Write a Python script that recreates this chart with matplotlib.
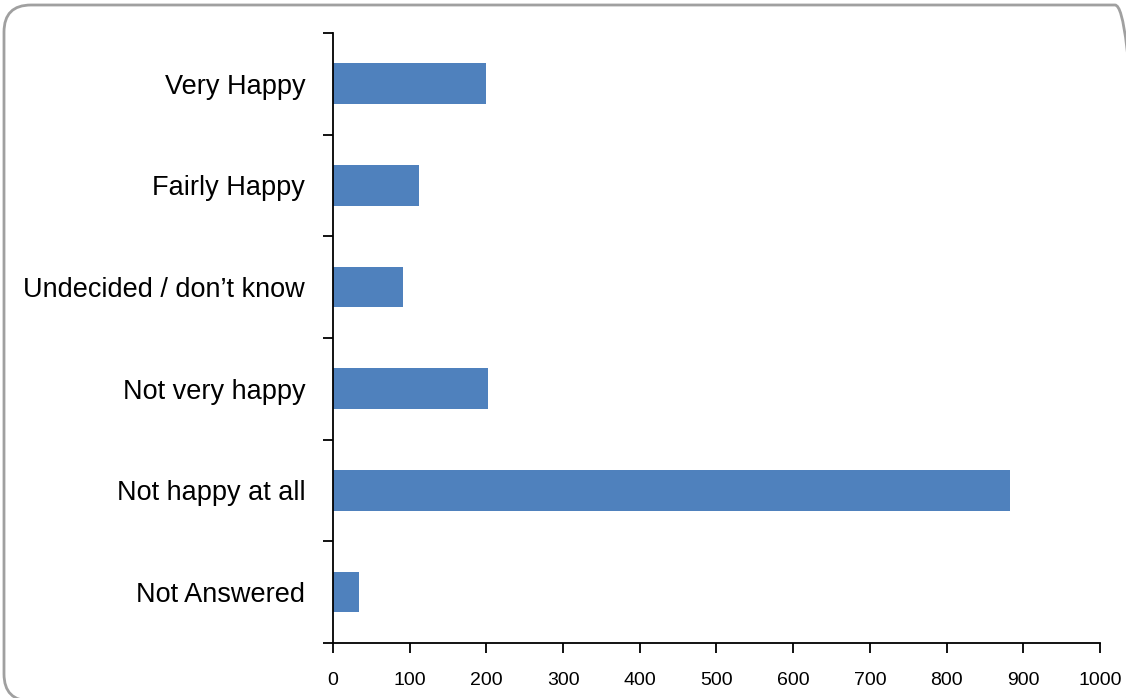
import matplotlib.pyplot as plt
from matplotlib.patches import FancyBboxPatch

plt.rcParams["font.family"] = ["Liberation Sans", "DejaVu Sans"]

# ============================
# 데이터
# ============================

categories = [
    "Very Happy",
    "Fairly Happy",
    "Undecided / don\u2019t know",
    "Not very happy",
    "Not happy at all",
    "Not Answered",
]
values = [200, 112, 91, 202, 883, 34]
x_ticks = [0, 100, 200, 300, 400, 500, 600, 700, 800, 900, 1000]

# ============================
# 그래프
# ============================

fig = plt.figure(figsize=(11.26, 6.98), dpi=100)
ax = fig.add_axes([0.2957, 0.0788, 0.6812, 0.874])

pos = range(len(categories))
ax.barh(pos, values, height=0.4, color="#4F81BD")

ax.set_xlim(0, 1000)
ax.set_ylim(len(categories) - 0.5, -0.5)

ax.set_xticks(x_ticks)
ax.set_xticklabels([str(v) for v in x_ticks], fontsize=14)
ax.set_yticks(list(pos))
ax.set_yticklabels(categories, fontsize=19.5)
ax.set_yticks([i - 0.5 for i in range(len(categories) + 1)], minor=True)

ax.tick_params(axis="y", which="major", length=0, pad=20)
ax.tick_params(axis="y", which="minor", length=7, width=1.3, direction="out")
ax.tick_params(axis="x", length=7, width=1.3, direction="out", pad=14)

for side in ["top", "right"]:
    ax.spines[side].set_visible(False)
ax.spines["left"].set_linewidth(1.3)
ax.spines["bottom"].set_linewidth(1.3)

# 바깥 둥근 테두리 (인치 단위)
frame = FancyBboxPatch(
    (0.04, -0.03), 11.38, 6.96,
    boxstyle="round,pad=0,rounding_size=0.27",
    transform=fig.dpi_scale_trans,
    facecolor="none",
    edgecolor="#a0a0a0",
    linewidth=2,
    clip_on=False,
)
fig.patches.append(frame)

fig.savefig("out.png", dpi=100)
